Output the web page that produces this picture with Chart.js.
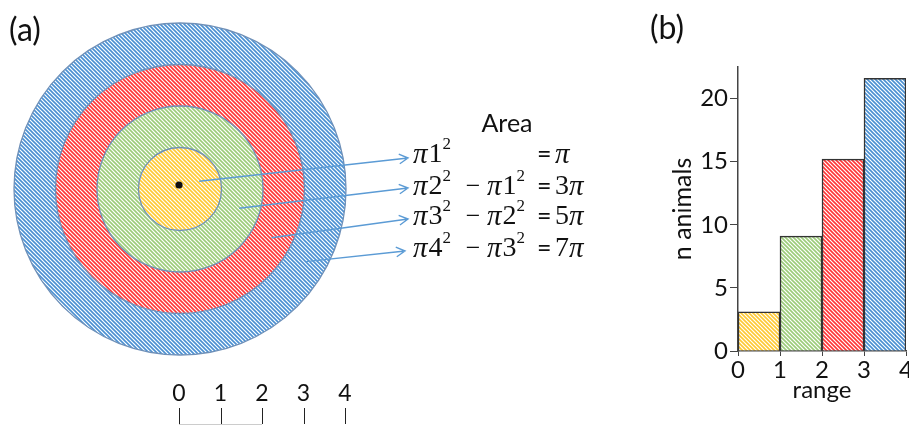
<!DOCTYPE html>
<html>
<head>
<meta charset="utf-8">
<script src="https://cdn.jsdelivr.net/npm/chart.js@4"></script>
<style>
html, body { margin: 0; padding: 0; background: #fff; width: 909px; height: 426px; overflow: hidden; }
#ringChart { position: absolute; left: 0; top: 0; }
#histChart { position: absolute; left: 640px; top: 0; }
</style>
</head>
<body>
<canvas id="ringChart" width="640" height="426"></canvas>
<canvas id="histChart" width="300" height="426"></canvas>
<script>
// data
const ringLabels = ['0-1', '1-2', '2-3', '3-4'];
const ringWidth = [1, 1, 1, 1];           // each ring is one unit of radius wide
const areaFactor = [1, 3, 5, 7];          // area of each ring, in units of pi
const rulerLabels = ['0', '1', '2', '3', '4'];
const rangeMid = [0.5, 1.5, 2.5, 3.5];
const nAnimals = [3.1, 9.1, 15.2, 21.6];
const yTickValues = [0, 5, 10, 15, 20];
const ringColors = ['#ffc933', '#9ccc7a', '#ff3535', '#4a90d2'];

const SANS = 'Lato, "Open Sans", sans-serif';
const SERIF = '"Liberation Serif", "DejaVu Serif", serif';

// diagonal hatch like the office "wide downward diagonal" fill
function stripes(color) {
  const c = document.createElement('canvas');
  c.width = 4; c.height = 4;
  const g = c.getContext('2d');
  g.fillStyle = '#fff';
  g.fillRect(0, 0, 4, 4);
  g.strokeStyle = color;
  g.lineWidth = 1.6;
  g.beginPath();
  g.moveTo(-1, -1); g.lineTo(5, 5);
  g.moveTo(-1, 3); g.lineTo(1, 5);
  g.moveTo(3, -1); g.lineTo(5, 1);
  g.stroke();
  return g.createPattern(c, 'repeat');
}
const patterns = ringColors.map(stripes);

// ---------- panel (a) ----------
const formulaRows = [
  { lhs: [['π', 1]] },
  { lhs: [['π', 2], ['π', 1]] },
  { lhs: [['π', 3], ['π', 2]] },
  { lhs: [['π', 4], ['π', 3]] }
];
const arrowAngle = [-22, 18, 28, 30];   // degrees, where each arrow leaves its ring
const arrowTip = [[408, 158], [408, 188], [408, 219], [405, 251]];
const rowY = [155, 187, 217, 249];

function drawTerm(ctx, x, y, base, exp) {
  ctx.textBaseline = 'middle';
  ctx.textAlign = 'left';
  ctx.font = 'italic 29px ' + SERIF;
  ctx.fillText(base, x, y);
  x += ctx.measureText(base).width + 1;
  ctx.font = '28px ' + SERIF;
  ctx.fillText(String(exp), x, y);
  x += ctx.measureText(String(exp)).width;
  ctx.font = '17px ' + SERIF;
  ctx.fillText('2', x, y - 10);
  return x + ctx.measureText('2').width;
}

const ringAnnotations = {
  id: 'ringAnnotations',
  afterDatasetsDraw(chart) {
    const ctx = chart.ctx;
    ctx.save();
    ctx.strokeStyle = '#6f90b8';
    ctx.lineWidth = 1.3;
    chart.data.datasets.forEach((d, i) => {
      const a = chart.getDatasetMeta(i).data[0];
      ctx.beginPath();
      ctx.arc(a.x, a.y, a.outerRadius, 0, Math.PI * 2);
      ctx.stroke();
    });
    ctx.restore();
  },
  afterDraw(chart) {
    const ctx = chart.ctx;
    // rings are drawn outer-first, so reverse to go from the centre out
    const arcs = chart.data.datasets.map((d, i) => chart.getDatasetMeta(i).data[0]).reverse();
    const cx = arcs[0].x, cy = arcs[0].y;
    ctx.save();
    ctx.fillStyle = '#111';
    ctx.font = '32px ' + SANS;
    ctx.textBaseline = 'middle';
    ctx.fillText('(a)', 9, 31);

    // centre dot
    ctx.beginPath();
    ctx.arc(cx - 1, cy - 4, 3.6, 0, Math.PI * 2);
    ctx.fill();

    // arrows from each ring to its area
    ctx.strokeStyle = '#5b9bd5';
    ctx.lineWidth = 1.4;
    arcs.forEach((a, i) => {
      const r = (a.innerRadius + a.outerRadius) / 2;
      const t = arrowAngle[i] * Math.PI / 180;
      const x0 = cx + r * Math.cos(t), y0 = cy + r * Math.sin(t);
      const [x1, y1] = arrowTip[i];
      const ang = Math.atan2(y1 - y0, x1 - x0);
      ctx.beginPath();
      ctx.moveTo(x0, y0);
      ctx.lineTo(x1, y1);
      ctx.moveTo(x1 - 10 * Math.cos(ang - 0.5), y1 - 10 * Math.sin(ang - 0.5));
      ctx.lineTo(x1, y1);
      ctx.lineTo(x1 - 10 * Math.cos(ang + 0.5), y1 - 10 * Math.sin(ang + 0.5));
      ctx.stroke();
    });

    // formulas
    ctx.fillStyle = '#111';
    ctx.font = '25px ' + SANS;
    ctx.textAlign = 'center';
    ctx.fillText('Area', 507, 124);
    formulaRows.forEach((row, i) => {
      const y = rowY[i];
      drawTerm(ctx, 413, y, row.lhs[0][0], row.lhs[0][1]);
      if (row.lhs[1]) {
        ctx.font = '26px ' + SERIF;
        ctx.textAlign = 'center';
        ctx.fillText('−', 473, y);
        drawTerm(ctx, 487, y, row.lhs[1][0], row.lhs[1][1]);
      }
      ctx.font = '25px ' + SANS;
      ctx.textAlign = 'left';
      ctx.fillText('=', 537, y);
      const rhsNum = areaFactor[i] === 1 ? '' : String(areaFactor[i]);
      let x = 555;
      if (rhsNum) {
        ctx.font = '28px ' + SERIF;
        ctx.fillText(rhsNum, x, y);
        x += ctx.measureText(rhsNum).width;
      }
      ctx.font = 'italic 29px ' + SERIF;
      ctx.fillText('π', x, y);
    });

    // radius ruler under the target, one tick per ring edge
    const edges = [0].concat(arcs.map(a => a.outerRadius));
    ctx.strokeStyle = '#222';
    ctx.lineWidth = 1;
    ctx.font = '23px ' + SANS;
    ctx.textAlign = 'center';
    edges.forEach((r, i) => {
      const x = Math.round(cx + r) - 0.5;
      ctx.beginPath();
      ctx.moveTo(x, 408);
      ctx.lineTo(x, 424);
      ctx.stroke();
      ctx.fillText(rulerLabels[i], cx + r - 1, 394);
    });
    ctx.strokeStyle = '#ccc';
    ctx.beginPath();
    ctx.moveTo(cx + edges[0] - 1, 424.5);
    ctx.lineTo(cx + edges[2] - 1, 424.5);
    ctx.stroke();
    ctx.restore();
  }
};

new Chart(document.getElementById('ringChart'), {
  type: 'doughnut',
  data: {
    labels: ['ring'],
    // outermost dataset first
    datasets: ringLabels.map((lab, i) => i).reverse().map(i => ({
      label: ringLabels[i],
      data: [areaFactor[i]],
      weight: ringWidth[i],
      backgroundColor: patterns[i],
      borderWidth: 0
    }))
  },
  options: {
    responsive: false,
    animation: false,
    cutout: 0,
    radius: 166,
    hoverOffset: 0,
    layout: { padding: { left: 0, right: 280, top: 9, bottom: 57 } },
    plugins: { legend: { display: false }, tooltip: { enabled: false } },
    events: []
  },
  plugins: [ringAnnotations]
});

// ---------- panel (b) ----------
const panelLabel = {
  id: 'panelLabel',
  afterDraw(chart) {
    const ctx = chart.ctx;
    ctx.save();
    ctx.fillStyle = '#111';
    ctx.font = '32px ' + SANS;
    ctx.textBaseline = 'middle';
    ctx.fillText('(b)', 10, 29);
    ctx.restore();
  }
};

new Chart(document.getElementById('histChart'), {
  type: 'bar',
  data: {
    datasets: [{
      data: rangeMid.map((x, i) => ({ x: x, y: nAnimals[i] })),
      backgroundColor: patterns,
      borderColor: '#333',
      borderWidth: 1.5,
      barPercentage: 1,
      categoryPercentage: 1
    }]
  },
  options: {
    responsive: false,
    animation: false,
    layout: { padding: { left: 0, right: 34, top: 67, bottom: 21 } },
    plugins: { legend: { display: false }, tooltip: { enabled: false } },
    events: [],
    scales: {
      x: {
        type: 'linear',
        offset: false,
        min: 0,
        max: 4,
        afterBuildTicks: s => { s.ticks = rulerLabels.map(Number).map(v => ({ value: v })); },
        afterFit: s => { s.height = 54; },
        ticks: { color: '#111', font: { family: SANS, size: 24 }, padding: 0 },
        grid: { offset: false, drawOnChartArea: false, tickLength: 5, color: '#444' },
        border: { color: '#444', width: 1.5 },
        title: { display: true, text: 'range', color: '#111', font: { family: SANS, size: 24 }, padding: { top: -4, bottom: 0 } }
      },
      y: {
        min: 0,
        max: 22.5,
        afterBuildTicks: s => { s.ticks = yTickValues.map(v => ({ value: v })); },
        afterFit: s => { s.width = 98; },
        ticks: { color: '#111', font: { family: SANS, size: 24 }, padding: 2 },
        grid: { drawOnChartArea: false, tickLength: 8, color: '#444' },
        border: { color: '#444', width: 1.5 },
        title: { display: true, text: 'n animals', color: '#111', font: { family: SANS, size: 25 }, padding: { top: 28, bottom: 0 } }
      }
    }
  },
  plugins: [panelLabel]
});
</script>
</body>
</html>
